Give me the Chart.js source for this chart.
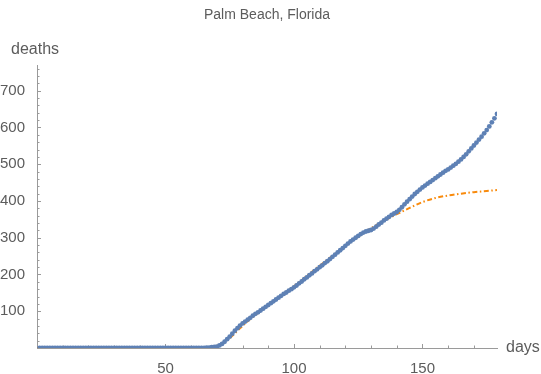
<!DOCTYPE html>
<html>
<head>
<meta charset="utf-8">
<script src="https://cdn.jsdelivr.net/npm/chart.js@4/dist/chart.umd.min.js"></script>
<style>
  html, body { margin: 0; padding: 0; background: #fff; }
  #wrap { width: 541px; height: 374px; position: relative; }
</style>
</head>
<body>
<div id="wrap"><canvas id="deathsChart"></canvas></div>
<script>
// Données (décès cumulés par jour)
const chartTitle = "Palm Beach, Florida";
const xAxisLabel = "days";
const yAxisLabel = "deaths";

const firstDay = 1;
const observedDeaths = [
  0, 0, 0, 0, 0, 0, 0, 0, 0, 0,
  0, 0, 0, 0, 0, 0, 0, 0, 0, 0,
  0, 0, 0, 0, 0, 0, 0, 0, 0, 0,
  0, 0, 0, 0, 0, 0, 0, 0, 0, 0,
  0, 0, 0, 0, 0, 0, 0, 0, 0, 0,
  0, 0, 0, 0, 0, 0, 0, 0, 0, 0,
  0, 0, 0, 0, 0, 1, 1, 2, 3, 4,
  7, 11, 17, 24, 31, 39, 47, 54, 61, 67,
  72, 77, 82, 88, 93, 97, 102, 107, 112, 117,
  122, 127, 132, 137, 142, 147, 151, 156, 160, 165,
  170, 176, 181, 187, 192, 198, 203, 209, 214, 220,
  225, 231, 236, 242, 248, 254, 260, 266, 272, 278,
  284, 290, 295, 300, 305, 310, 314, 317, 319, 321,
  325, 330, 336, 341, 347, 352, 357, 362, 366, 370,
  376, 383, 391, 398, 405, 412, 419, 425, 431, 437,
  442, 447, 452, 457, 462, 467, 472, 477, 482, 486,
  491, 496, 501, 507, 513, 520, 527, 535, 543, 551,
  559, 567, 575, 584, 593, 603, 614, 625, 637
];

// Courbe ajustée (pointillés orange)
const fitDays   = [0, 60, 65, 68, 70, 72, 74, 76, 78, 80, 82, 85, 90, 95, 100, 105, 110, 115, 120, 125, 130, 135, 140, 145, 150, 155, 160, 165, 170, 175, 179];
const fitDeaths = [0, 0, 1, 3, 6, 12, 21, 33, 47, 60, 73, 90, 117, 143, 168, 196, 224, 251, 278, 303, 326, 346, 364, 381, 397, 408, 415, 420, 424, 427, 430];

const xMajorTicks = [50, 100, 150];
const yMajorTicks = [100, 200, 300, 400, 500, 600, 700];
const xRange = [0, 179];
const yRange = [0, 770];

const BLUE = "#5E81B5";
const ORANGE = "#F88A0C";
const AXIS = "#9a9a9a";
const TEXT = "#5c5c5c";
const FONT = '"Liberation Sans", Arial, sans-serif';

// Graduations (majeures + mineures) tournées vers l'intérieur, et textes
const frameDecor = {
  id: "frameDecor",
  beforeDatasetsDraw(chart) {
    const { ctx, chartArea: a, scales: { x, y } } = chart;
    ctx.save();
    ctx.strokeStyle = AXIS;
    ctx.lineWidth = 1;
    ctx.beginPath();
    for (let v = 10; v <= xRange[1]; v += 10) {
      const px = Math.round(x.getPixelForValue(v)) + 0.5;
      const len = v % 50 === 0 ? 4 : 2.5;
      ctx.moveTo(px, a.bottom);
      ctx.lineTo(px, a.bottom - len);
    }
    for (let v = 20; v <= yRange[1]; v += 20) {
      const py = Math.round(y.getPixelForValue(v)) + 0.5;
      const len = v % 100 === 0 ? 4 : 2.5;
      ctx.moveTo(a.left, py);
      ctx.lineTo(a.left + len, py);
    }
    ctx.stroke();
    ctx.restore();
  },
  afterDraw(chart) {
    const { ctx, chartArea: a } = chart;
    ctx.save();
    ctx.fillStyle = TEXT;
    ctx.font = "14px " + FONT;
    ctx.textAlign = "center";
    ctx.textBaseline = "middle";
    ctx.fillText(chartTitle, (a.left + a.right) / 2, 15);

    ctx.font = "16px " + FONT;
    ctx.textAlign = "left";
    ctx.fillText(yAxisLabel, 11, 50);
    ctx.fillText(xAxisLabel, a.right + 9, a.bottom);
    ctx.restore();
  }
};

const observedPoints = observedDeaths.map((d, i) => ({ x: firstDay + i, y: d }));
const fitPoints = fitDays.map((d, i) => ({ x: d, y: fitDeaths[i] }));

new Chart(document.getElementById("deathsChart"), {
  type: "line",
  data: {
    datasets: [
      {
        label: "observé",
        data: observedPoints,
        showLine: false,
        pointRadius: 2.4,
        pointBackgroundColor: BLUE,
        pointBorderWidth: 0,
        pointHoverRadius: 2.4
      },
      {
        label: "ajustement",
        data: fitPoints,
        borderColor: ORANGE,
        borderWidth: 2,
        borderDash: [5, 2.5, 1.5, 2.5],
        pointRadius: 0,
        cubicInterpolationMode: "monotone",
        fill: false
      }
    ]
  },
  options: {
    responsive: true,
    maintainAspectRatio: false,
    animation: false,
    layout: { padding: { left: 0, right: 44, top: 65, bottom: 0 } },
    plugins: {
      legend: { display: false },
      title: { display: false },
      tooltip: { enabled: false }
    },
    scales: {
      x: {
        type: "linear",
        min: xRange[0],
        max: xRange[1],
        afterBuildTicks: s => { s.ticks = xMajorTicks.map(v => ({ value: v })); },
        afterFit: s => { s.height = 26; },
        grid: { display: false },
        border: { display: true, color: AXIS, width: 1 },
        ticks: { color: TEXT, font: { family: FONT, size: 15 }, padding: 4, maxRotation: 0 }
      },
      y: {
        type: "linear",
        min: yRange[0],
        max: yRange[1],
        afterBuildTicks: s => { s.ticks = yMajorTicks.map(v => ({ value: v })); },
        afterFit: s => { s.width = 37; },
        grid: { display: false },
        border: { display: true, color: AXIS, width: 1 },
        ticks: { color: TEXT, font: { family: FONT, size: 15 }, padding: 4 }
      }
    }
  },
  plugins: [frameDecor]
});
</script>
</body>
</html>
